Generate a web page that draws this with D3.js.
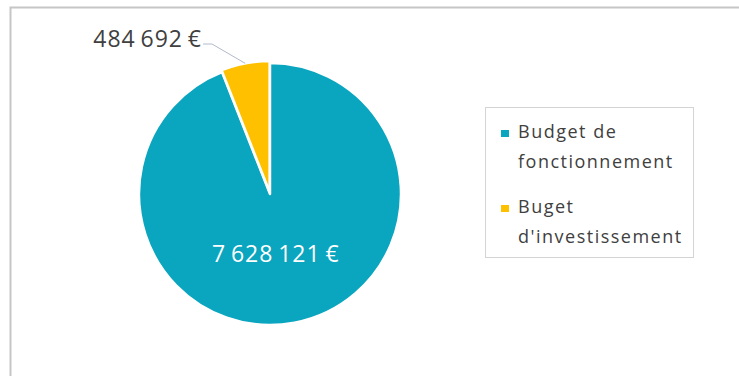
<!DOCTYPE html>
<html>
<head>
<meta charset="utf-8">
<script src="https://cdn.jsdelivr.net/npm/d3@7"></script>
<style>
  html, body { margin: 0; padding: 0; background: #ffffff; }
  svg { display: block; }
  text { font-family: "Open Sans", "Noto Sans", sans-serif; }
</style>
</head>
<body>
<svg id="chart" width="739" height="376"></svg>
<script>
// Budget split (euros)
const categories = ["Budget de fonctionnement", "Buget d'investissement"];
const legendLines = [["Budget de", "fonctionnement"], ["Buget", "d'investissement"]];
const values = [7628121, 484692];
const colors = ["#0aa5be", "#ffc000"];

const fmt = v => d3.format(",")(v).replace(/,/g, "\u2009") + "\u2009€";

const svg = d3.select("#chart");
const W = 739, H = 376;

// Chart frame (extends past the right and bottom edges)
svg.append("rect")
  .attr("x", 10.5).attr("y", 7.5)
  .attr("width", W + 20).attr("height", H + 20)
  .attr("fill", "#ffffff")
  .attr("stroke", "#c6c6c6")
  .attr("stroke-width", 2);

const cx = 270, cy = 194, r = 131;

const pie = d3.pie().sort(null).value(d => d.value);
const arcs = pie(categories.map((c, i) => ({ name: c, value: values[i], color: colors[i] })));
const arc = d3.arc().innerRadius(0).outerRadius(r);

const g = svg.append("g").attr("transform", `translate(${cx},${cy})`);

// Slices; the small one is pulled out slightly
g.selectAll("path.slice")
  .data(arcs)
  .join("path")
  .attr("class", "slice")
  .attr("d", arc)
  .attr("fill", d => d.data.color)
  .attr("stroke", "#ffffff")
  .attr("stroke-width", 2.5)
  .attr("stroke-linejoin", "round")
  .attr("transform", (d, i) => {
    if (i === 0) return null;
    const a = (d.startAngle + d.endAngle) / 2;
    const off = 2;
    return `translate(${Math.sin(a) * off},${-Math.cos(a) * off})`;
  });

// Inside label for the large slice
const big = arcs[0];
const labelArc = d3.arc().innerRadius(r * 0.48).outerRadius(r * 0.48);
const [bx, by] = labelArc.centroid(big);
g.append("text")
  .attr("x", bx - 6).attr("y", by + 6)
  .attr("text-anchor", "middle")
  .attr("font-size", 23)
  .attr("letter-spacing", 1.0)
  .attr("fill", "#ffffff")
  .text(fmt(values[0]));

// Outside label with leader line for the small slice
const small = arcs[1];
const mid = (small.startAngle + small.endAngle) / 2;
const edge = [Math.sin(mid) * (r + 2), -Math.cos(mid) * (r + 2)];
const elbow = [-58, -150];
const end = [-67, -150];
g.append("polyline")
  .attr("points", [edge, elbow, end].map(p => p.join(",")).join(" "))
  .attr("fill", "none")
  .attr("stroke", "#b4b8cc")
  .attr("stroke-width", 1);
g.append("text")
  .attr("x", end[0] - 1).attr("y", end[1] + 3)
  .attr("text-anchor", "end")
  .attr("font-size", 23)
  .attr("letter-spacing", 1.0)
  .attr("fill", "#404040")
  .text(fmt(values[1]));

// Legend
const legend = svg.append("g");
legend.append("rect")
  .attr("x", 485.5).attr("y", 107.5)
  .attr("width", 208).attr("height", 150)
  .attr("fill", "#ffffff")
  .attr("stroke", "#d4d4d4")
  .attr("stroke-width", 1);

const itemY = [138, 213];
legendLines.forEach((lines, i) => {
  legend.append("rect")
    .attr("x", 501).attr("y", itemY[i] - 8)
    .attr("width", 8).attr("height", 7)
    .attr("fill", colors[i]);
  const t = legend.append("text")
    .attr("x", 518).attr("y", itemY[i])
    .attr("font-size", 18)
    .attr("letter-spacing", 1.5)
    .attr("fill", "#404040");
  lines.forEach((ln, j) => {
    t.append("tspan").attr("x", 518).attr("dy", j === 0 ? 0 : 29.5).text(ln);
  });
});
</script>
</body>
</html>
